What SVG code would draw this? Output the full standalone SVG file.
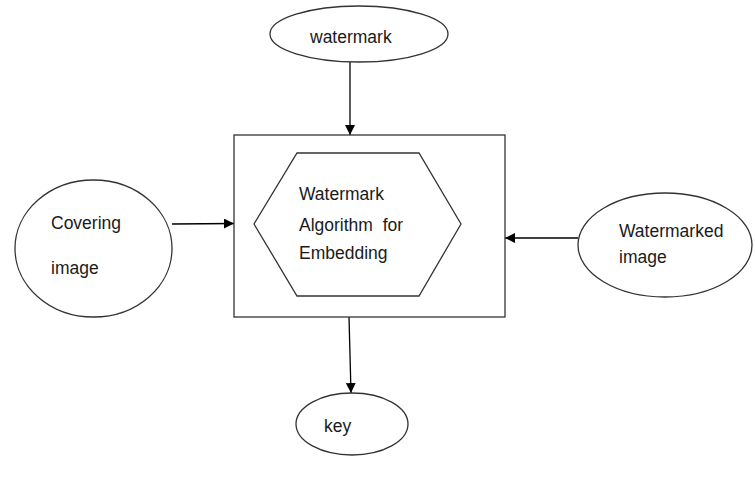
<svg xmlns="http://www.w3.org/2000/svg" width="755" height="478" viewBox="0 0 755 478">
<style>
.sh{fill:#fff;stroke:#333;stroke-width:1.3}
.ln{stroke:#000;stroke-width:1.3;fill:none}
text{font-family:"Liberation Sans",Arial,sans-serif;font-size:17.5px;fill:#1a1a1a}
</style>
<defs>
<marker id="ah" viewBox="0 0 10 10" refX="10" refY="5" markerWidth="10" markerHeight="10" markerUnits="userSpaceOnUse" orient="auto">
<path d="M0,0 L10,5 L0,10 Z" fill="#000"/>
</marker>
</defs>
<rect width="755" height="478" fill="#fff"/>
<g id="connectors">
<line class="ln" x1="350" y1="62" x2="350" y2="135" marker-end="url(#ah)"/>
<line class="ln" x1="172" y1="224" x2="234" y2="223.5" marker-end="url(#ah)"/>
<line class="ln" x1="578" y1="238" x2="505" y2="238" marker-end="url(#ah)"/>
<line class="ln" x1="349" y1="317" x2="351" y2="393" marker-end="url(#ah)"/>
</g>
<g id="watermark">
<ellipse class="sh" cx="359" cy="34" rx="89" ry="28"/>
<text x="310" y="43">watermark</text>
</g>
<g id="algorithm-box">
<rect class="sh" x="234" y="135" width="271" height="182"/>
</g>
<g id="algorithm">
<polygon class="sh" points="297,153 419,153 461,224 419,296 297,296 254,224"/>
<text x="299" y="200">Watermark</text>
<text x="299" y="231" xml:space="preserve">Algorithm  for</text>
<text x="299" y="259">Embedding</text>
</g>
<g id="covering">
<ellipse class="sh" cx="93.5" cy="248.5" rx="78.5" ry="68.5"/>
<text x="51" y="229">Covering</text>
<text x="51" y="274">image</text>
</g>
<g id="watermarked">
<ellipse class="sh" cx="665" cy="245" rx="87" ry="52"/>
<text x="619" y="237">Watermarked</text>
<text x="619" y="263">image</text>
</g>
<g id="key">
<ellipse class="sh" cx="352" cy="424" rx="56" ry="31"/>
<text x="324" y="432">key</text>
</g>
</svg>
